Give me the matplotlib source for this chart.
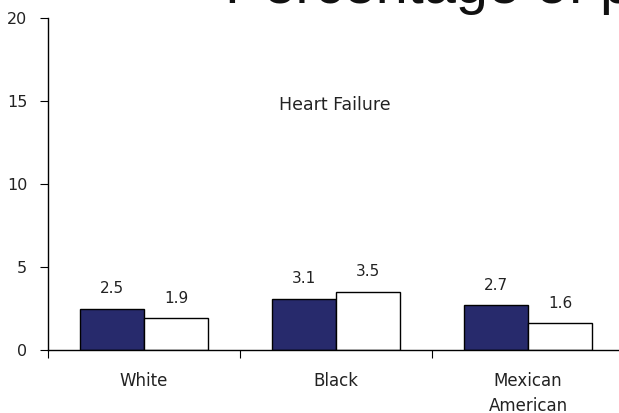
import numpy as np
import matplotlib
matplotlib.use('Agg')
import matplotlib.pyplot as plt

categories = ['White', 'Black', 'Mexican\nAmerican']
men = [2.5, 3.1, 2.7]
women = [1.9, 3.5, 1.6]
yticks = [0, 5, 10, 15, 20]

plt.rcParams['font.family'] = ['DejaVu Sans']

fig = plt.figure(figsize=(6.19, 4.13), dpi=100, facecolor='white')
ax = fig.add_axes([48 / 619, 63 / 413, 576 / 619, 332 / 413])

x = np.arange(len(categories))
w = 1 / 3
ax.bar(x - w / 2, men, w, color='#272a6c', edgecolor='black', lw=1)
ax.bar(x + w / 2, women, w, color='white', edgecolor='black', lw=1)

for xi, v in zip(x - w / 2, men):
    ax.annotate('{}'.format(v), (xi, v), xytext=(0, 14.5), textcoords='offset points',
                ha='center', va='center', fontsize=11, color='#222222')
for xi, v in zip(x + w / 2, women):
    ax.annotate('{}'.format(v), (xi, v), xytext=(0, 14.5), textcoords='offset points',
                ha='center', va='center', fontsize=11, color='#222222')

ax.set_xlim(-0.5, 2.5)
ax.set_ylim(0, 20)
ax.set_yticks(yticks)
ax.set_xticks([-0.5, 0.5, 1.5, 2.5])
ax.set_xticklabels([])
for xi, c in zip(x, categories):
    ax.annotate(c, (xi, 0), xytext=(0, -16), textcoords='offset points',
                ha='center', va='top', fontsize=12, color='#222222', linespacing=1.45)

ax.tick_params(axis='y', direction='out', length=6, pad=9, labelsize=11.5,
               labelcolor='#222222')
ax.tick_params(axis='x', direction='out', length=6)
for s in ['top', 'right']:
    ax.spines[s].set_visible(False)
for s in ['left', 'bottom']:
    ax.spines[s].set_linewidth(1)

ax.text(0.995, 14.75, 'Heart Failure', ha='center', va='center', fontsize=12.5,
        color='#222222')

# title runs off the top/right edge in the original slide too
fig.text(225 / 619, 1 - 3 / 413, 'Percentage of population', fontsize=41.5,
         family='Liberation Sans', ha='left', va='baseline', color='#111111')

fig.savefig('out.png', dpi=100)
